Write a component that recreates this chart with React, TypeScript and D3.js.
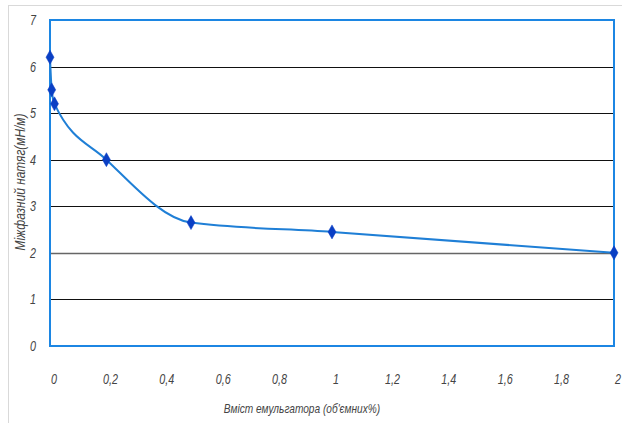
import React, { useRef, useEffect } from "react";
import * as d3 from "d3";

// emulsifier content (vol %) vs interfacial tension (mN/m)
const emulsifier = [0, 0.006, 0.016, 0.2, 0.5, 1, 2];
const tension = [6.2, 5.5, 5.2, 4.0, 2.65, 2.45, 2.0];
const xTicks = [0, 0.2, 0.4, 0.6, 0.8, 1, 1.2, 1.4, 1.6, 1.8, 2];
const yTicks = [0, 1, 2, 3, 4, 5, 6, 7];

const App = () => {
  const svgRef = useRef<SVGSVGElement>(null);

  useEffect(() => {
    const svg = d3.select(svgRef.current);
    svg.selectAll("*").remove();
    const width = 622;
    const height = 423;
    const margin = { top: 20, right: 8, bottom: 77, left: 50 };
    const font = "'Liberation Sans', sans-serif";
    const ink = "#444";

    const x = d3.scaleLinear().domain([0, 2]).range([margin.left, width - margin.right]);
    const y = d3.scaleLinear().domain([0, 7]).range([height - margin.bottom, margin.top]);

    // outer frame
    svg
      .append("rect")
      .attr("x", 8.5)
      .attr("y", 5.5)
      .attr("width", 640)
      .attr("height", 440)
      .attr("fill", "none")
      .attr("stroke", "#d9d9d9");

    // grid
    svg
      .append("g")
      .selectAll("line")
      .data(yTicks.filter((d) => d > 0 && d < 7))
      .join("line")
      .attr("x1", x(0))
      .attr("x2", x(2))
      .attr("y1", (d) => Math.round(y(d)) + 0.5)
      .attr("y2", (d) => Math.round(y(d)) + 0.5)
      .attr("stroke", (d) => (d === 2 ? "#666" : "#111"))
      .attr("stroke-width", (d) => (d === 2 ? 1.5 : 1));

    // plot border
    svg
      .append("rect")
      .attr("x", x(0))
      .attr("y", y(7))
      .attr("width", x(2) - x(0))
      .attr("height", y(0) - y(7))
      .attr("fill", "none")
      .attr("stroke", "#1c86e3")
      .attr("stroke-width", 2);

    // y ticks
    svg
      .append("g")
      .selectAll("text")
      .data(yTicks)
      .join("text")
      .attr("transform", (d) => `translate(${x(0) - 14},${y(d) + 5}) scale(0.72,1)`)
      .attr("text-anchor", "end")
      .attr("font-family", font)
      .attr("font-style", "italic")
      .attr("font-size", 15)
      .attr("fill", ink)
      .text((d) => d);

    // x ticks
    svg
      .append("g")
      .selectAll("text")
      .data(xTicks)
      .join("text")
      .attr("transform", (d) => `translate(${x(d) + 4},384) scale(0.72,1)`)
      .attr("text-anchor", "middle")
      .attr("font-family", font)
      .attr("font-style", "italic")
      .attr("font-size", 15)
      .attr("fill", ink)
      .text((d) => String(d).replace(".", ","));

    // axis titles
    svg
      .append("text")
      .attr("transform", "translate(302,413) scale(0.78,1)")
      .attr("text-anchor", "middle")
      .attr("font-family", font)
      .attr("font-style", "italic")
      .attr("font-size", 13)
      .attr("fill", ink)
      .text("Вміст емульгатора (об'ємних%)");

    svg
      .append("text")
      .attr("transform", "translate(25,182) rotate(-90) scale(0.85,1)")
      .attr("text-anchor", "middle")
      .attr("font-family", font)
      .attr("font-style", "italic")
      .attr("font-size", 14)
      .attr("fill", ink)
      .text("Міжфазний натяг(мН/м)");

    const pts: [number, number][] = emulsifier.map((d, i) => [d, tension[i]]);

    const line = d3
      .line<[number, number]>()
      .x((d) => x(d[0]))
      .y((d) => y(d[1]))
      .curve(d3.curveMonotoneX);

    svg
      .append("path")
      .datum(pts)
      .attr("d", line)
      .attr("fill", "none")
      .attr("stroke", "#1f7fd6")
      .attr("stroke-width", 2);

    svg
      .append("g")
      .selectAll("path")
      .data(pts)
      .join("path")
      .attr("transform", (d) => `translate(${x(d[0])},${y(d[1])})`)
      .attr("d", "M0,-7L4,0L0,7L-4,0Z")
      .attr("fill", "#0a3fc4")
      .attr("stroke", "#0a3fc4")
      .attr("stroke-width", 0.5);
  }, []);

  return <svg ref={svgRef} width={622} height={423} style={{ position: "absolute", left: 0, top: 0 }}></svg>;
};

export default App;
